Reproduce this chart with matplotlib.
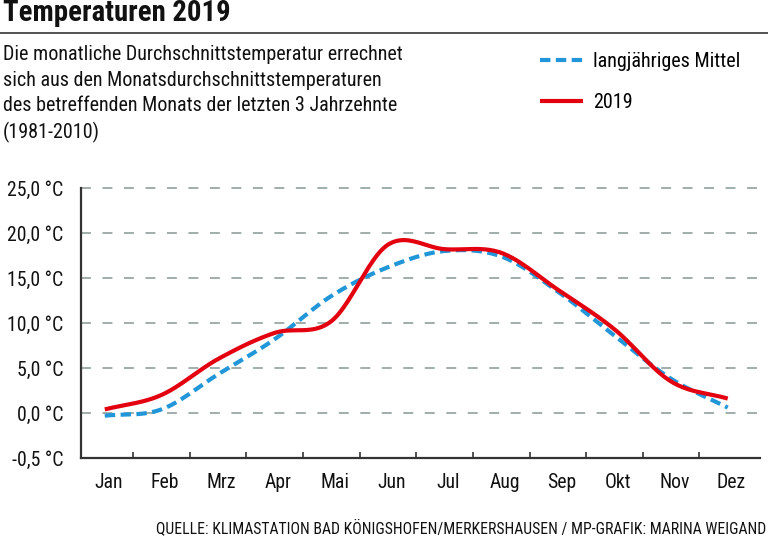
#Temperaturen 2019 - monthly mean temperatures vs. long-term average
import numpy as np
import matplotlib
matplotlib.use("Agg")
import matplotlib.pyplot as plt

plt.rcParams['font.family'] = ['Roboto Condensed', 'Open Sans Condensed', 'Liberation Sans Narrow', 'DejaVu Sans']
plt.rcParams['font.stretch'] = 'condensed'

months = ['Jan', 'Feb', 'Mrz', 'Apr', 'Mai', 'Jun', 'Jul', 'Aug', 'Sep', 'Okt', 'Nov', 'Dez']
mittel = [-0.3, 0.4, 4.3, 8.2, 13.0, 16.2, 18.0, 17.4, 13.5, 8.6, 3.8, 0.6]   #langjähriges Mittel
temp2019 = [0.4, 2.0, 6.0, 8.9, 10.2, 18.7, 18.2, 17.8, 13.7, 9.3, 3.5, 1.6]
yticks = [-5, 0, 5, 10, 15, 20, 25]
ylabels = ['-0,5 °C', '0,0 °C', '5,0 °C', '10,0 °C', '15,0 °C', '20,0 °C', '25,0 °C']

RED = '#e3000f'
BLUE = '#2196d8'
GRID = '#9aa7a5'
AXIS = '#333333'


#smooth curve through the monthly values (Catmull-Rom)
def smooth(vals, n=24):
  v = np.asarray(vals, float)
  p = np.concatenate([[2*v[0]-v[1]], v, [2*v[-1]-v[-2]]])
  xs, ys = [], []
  t = np.linspace(0, 1, n, endpoint=False)
  for i in range(len(v)-1):
    p0, p1, p2, p3 = p[i:i+4]
    y = 0.5*((2*p1) + (-p0+p2)*t + (2*p0-5*p1+4*p2-p3)*t**2 + (-p0+3*p1-3*p2+p3)*t**3)
    xs.append(i+t)
    ys.append(y)
  xs.append([len(v)-1])
  ys.append([v[-1]])
  return np.concatenate(xs), np.concatenate(ys)


fig = plt.figure(figsize=(7.68, 5.41), dpi=100)
ax = fig.add_axes([81/768, 1-458/541, (760-81)/768, (458-185.3)/541])

x1, y1 = smooth(mittel)
x2, y2 = smooth(temp2019)
ax.plot(x1, y1, color=BLUE, lw=3.0, dashes=(2.5, 1.3), label='langjähriges Mittel', zorder=3)
ax.plot(x2, y2, color=RED, lw=3.0, solid_capstyle='butt', label='2019', zorder=4)

ax.set_xlim(-0.42, 11.57)
ax.set_ylim(-5, 25.3)

#dashed grid lines
for yv in yticks[1:]:
  ax.axhline(yv, color=GRID, lw=1.3, dashes=(5.5, 6.4), zorder=1)

ax.set_yticks(yticks)
ax.set_yticklabels(ylabels)
ax.set_xticks(np.arange(len(months)) + 0.06)
ax.set_xticklabels(months)
ax.set_xticks(np.arange(0.5, 11, 1), minor=True)
ax.tick_params(axis='y', length=0, pad=12.5, labelsize=14.2, labelcolor='#111111')
ax.tick_params(axis='x', which='major', length=0, pad=11, labelsize=14.2, labelcolor='#111111')
ax.tick_params(axis='x', which='minor', direction='in', length=4, width=1.2, color=AXIS)

for s in ['top', 'right']:
  ax.spines[s].set_visible(False)
ax.spines['left'].set_bounds(-5, 25)
for s in ['left', 'bottom']:
  ax.spines[s].set_color(AXIS)
  ax.spines[s].set_linewidth(1.6)

#header
fig.text(3/768, 1-21/541, 'Temperaturen 2019', fontsize=20.7, fontweight='bold', va='baseline', ha='left', color='#111111')
fig.add_artist(plt.Line2D([0, 1], [1-33/541, 1-33/541], color='#444444', lw=1.3))
desc = ("Die monatliche Durchschnittstemperatur errechnet\n"
        "sich aus den Monatsdurchschnittstemperaturen\n"
        "des betreffenden Monats der letzten 3 Jahrzehnte\n"
        "(1981-2010)")
fig.text(3/768, 1-45/541, desc, fontsize=14.5, va='top', ha='left', linespacing=1.44, color='#111111')

fig.legend(loc='upper left', bbox_to_anchor=(540/768, 1-52/541), frameon=False, fontsize=14.5,
           borderpad=0, borderaxespad=0, handlelength=2.14, handletextpad=0.5, labelspacing=1.09)

fig.text(766/768, 1-528/541, 'QUELLE: KLIMASTATION BAD KÖNIGSHOFEN/MERKERSHAUSEN / MP-GRAFIK: MARINA WEIGAND',
         fontsize=11.3, ha='right', va='center', color='#111111')

fig.savefig('out.png', dpi=100)
